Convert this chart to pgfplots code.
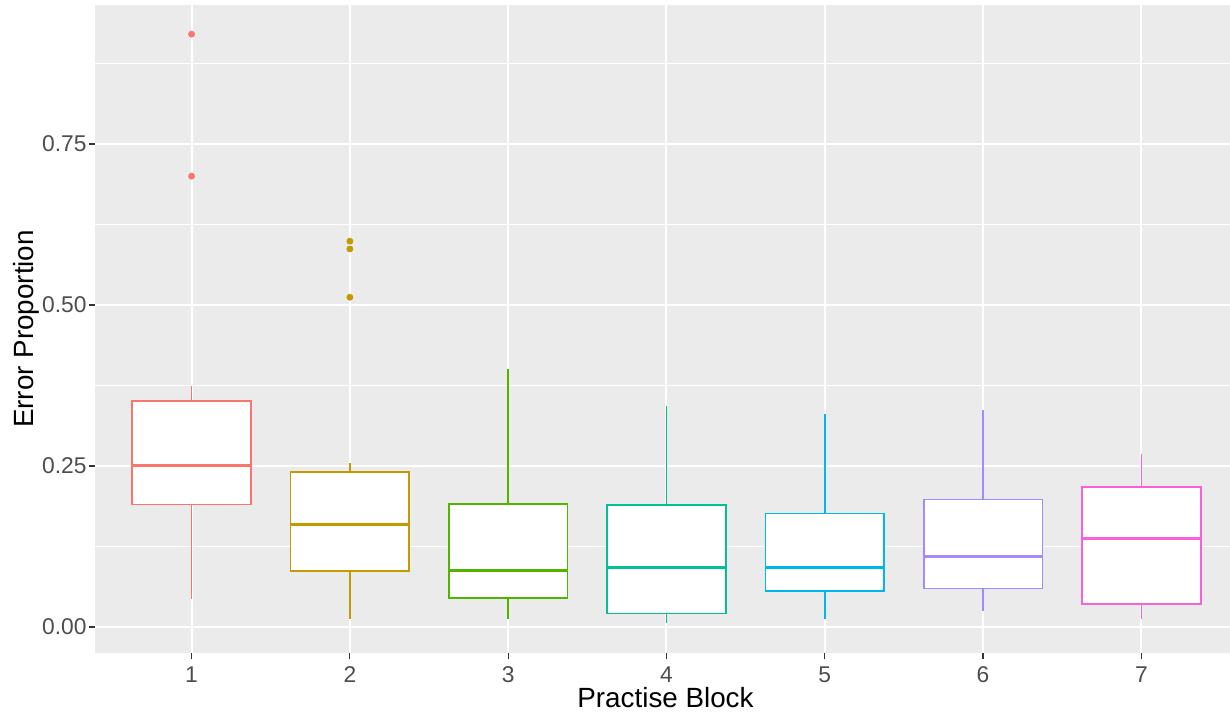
\documentclass[border=0pt]{standalone}
\usepackage{pgfplots}
\pgfplotsset{compat=1.18}
\usepgfplotslibrary{statistics}
\usepackage{fontspec}
\setmainfont{Liberation Sans}
\definecolor{c1}{HTML}{F8766D}
\definecolor{c2}{HTML}{C49A00}
\definecolor{c3}{HTML}{53B400}
\definecolor{c4}{HTML}{00C094}
\definecolor{c5}{HTML}{00B6EB}
\definecolor{c6}{HTML}{A58AFF}
\definecolor{c7}{HTML}{FB61D7}
\definecolor{panel}{HTML}{EBEBEB}
\definecolor{ticktext}{HTML}{4D4D4D}
\definecolor{tickmark}{HTML}{333333}
\begin{document}
\begin{tikzpicture}
\useasboundingbox (0,0) rectangle (615pt,356pt);
\begin{axis}[
  at={(47.5pt,29.5pt)}, anchor=south west,
  scale only axis, width=567.5pt, height=324pt,
  xmin=0.39, xmax=7.56, ymin=-0.0404, ymax=0.9658,
  axis background/.style={fill=panel},
  axis line style={draw=none},
  xtick={1,2,3,4,5,6,7},
  ytick={0,0.25,0.5,0.75},
  yticklabels={0.00,0.25,0.50,0.75},
  minor ytick={0.125,0.375,0.625,0.875},
  xmajorgrids, ymajorgrids, yminorgrids,
  major grid style={white, line width=1pt},
  minor grid style={white, line width=0.5pt},
  tick align=outside, xtick pos=left, ytick pos=left,
  major tick length=3pt, minor tick length=0pt,
  tick style={tickmark, line width=0.6pt},
  /pgf/number format/assume math mode=true,
  ticklabel style={font=\fontsize{11.4}{13}\selectfont, text=ticktext},
  yticklabel style={inner sep=0pt, anchor=east, xshift=-1pt},
  xticklabel style={inner sep=0pt, anchor=north, yshift=-3.8pt},
  xlabel={Practise Block}, ylabel={Error Proportion},
  label style={font=\fontsize{13.9}{16}\selectfont},
  xlabel style={at={(axis description cs:0.5,0)}, anchor=center, yshift=-22.5pt, xshift=1.5pt},
  ylabel style={at={(axis description cs:0,0.5)}, anchor=center, yshift=34.5pt},
  boxplot/draw direction=y,
  boxplot/box extend=0.75, boxplot/whisker extend=0,
  boxplot/every median/.style={line width=1.5pt},
  boxplot/every box/.style={fill=white, line width=0.8pt},
  boxplot/every whisker/.style={line width=0.8pt},
]
\addplot[draw=c1, boxplot prepared={draw position=1, median=0.250, upper quartile=0.351, lower quartile=0.190, upper whisker=0.374, lower whisker=0.0435}] coordinates {};
\addplot[draw=c2, boxplot prepared={draw position=2, median=0.159, upper quartile=0.241, lower quartile=0.0865, upper whisker=0.254, lower whisker=0.013}] coordinates {};
\addplot[draw=c3, boxplot prepared={draw position=3, median=0.087, upper quartile=0.191, lower quartile=0.045, upper whisker=0.400, lower whisker=0.013}] coordinates {};
\addplot[draw=c4, boxplot prepared={draw position=4, median=0.093, upper quartile=0.189, lower quartile=0.021, upper whisker=0.343, lower whisker=0.006}] coordinates {};
\addplot[draw=c5, boxplot prepared={draw position=5, median=0.093, upper quartile=0.176, lower quartile=0.056, upper whisker=0.331, lower whisker=0.012}] coordinates {};
\addplot[draw=c6, boxplot prepared={draw position=6, median=0.109, upper quartile=0.198, lower quartile=0.060, upper whisker=0.337, lower whisker=0.025}] coordinates {};
\addplot[draw=c7, boxplot prepared={draw position=7, median=0.138, upper quartile=0.217, lower quartile=0.0357, upper whisker=0.269, lower whisker=0.0124}] coordinates {};
\addplot[only marks, mark=*, mark size=1.5pt, c1] coordinates {(1,0.9205) (1,0.700)};
\addplot[only marks, mark=*, mark size=1.5pt, c2] coordinates {(2,0.599) (2,0.587) (2,0.512)};
\end{axis}
\end{tikzpicture}
\end{document}
